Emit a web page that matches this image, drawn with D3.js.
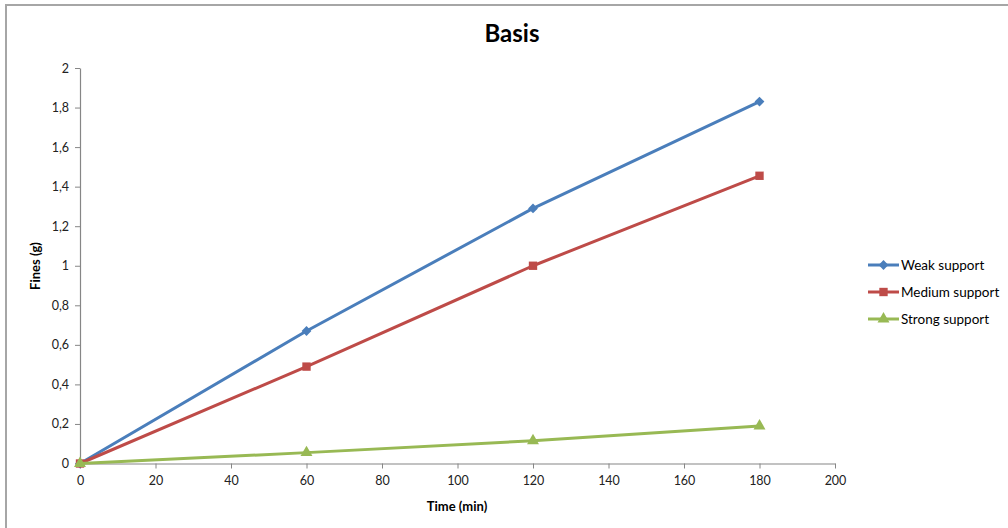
<!DOCTYPE html>
<html>
<head>
<meta charset="utf-8">
<script src="https://cdn.jsdelivr.net/npm/d3@7"></script>
<style>
  html, body { margin: 0; padding: 0; background: #fff; }
  svg { display: block; }
  text { font-family: Lato, "Open Sans", sans-serif; }
</style>
</head>
<body>
<svg id="chart" width="1008" height="528"></svg>
<script>
// Fines collected over time for three support levels
const times = [0, 60, 120, 180];
const weakSupport = [0, 0.67, 1.29, 1.83];
const mediumSupport = [0, 0.49, 1.0, 1.455];
const strongSupport = [0, 0.055, 0.115, 0.19];
const seriesNames = ["Weak support", "Medium support", "Strong support"];
const xTicks = [0, 20, 40, 60, 80, 100, 120, 140, 160, 180, 200];
const yTicks = [0, 0.2, 0.4, 0.6, 0.8, 1, 1.2, 1.4, 1.6, 1.8, 2];

// diamond = square turned 45 degrees
const series = [
  { name: seriesNames[0], values: weakSupport, color: "#4a7ebb", symbol: d3.symbolSquare, size: 48, rot: 45 },
  { name: seriesNames[1], values: mediumSupport, color: "#be4b48", symbol: d3.symbolSquare, size: 70, rot: 0 },
  { name: seriesNames[2], values: strongSupport, color: "#98b954", symbol: d3.symbolTriangle, size: 62, rot: 0 }
];

const svg = d3.select("#chart");

// chart frame (top and left edges visible)
svg.append("path")
  .attr("d", "M6,532 L6,5 L1012,5")
  .attr("fill", "none")
  .attr("stroke", "#a6a6a6")
  .attr("stroke-width", 2);

const x = d3.scaleLinear().domain([0, 200]).range([80, 835]);
const y = d3.scaleLinear().domain([0, 2]).range([463.5, 68]);

const fmt = d => String(d).replace(".", ",");

// x axis
const xAxis = svg.append("g")
  .attr("transform", `translate(0,${y(0)})`)
  .call(d3.axisBottom(x).tickValues(xTicks).tickSize(5).tickSizeOuter(0).tickFormat(fmt));
// y axis
const yAxis = svg.append("g")
  .attr("transform", `translate(${x(0)},0)`)
  .call(d3.axisLeft(y).tickValues(yTicks).tickSize(5).tickSizeOuter(0).tickFormat(fmt));

[xAxis, yAxis].forEach(a => {
  a.select(".domain").attr("stroke", "#868686").attr("stroke-width", 1.2);
  a.selectAll(".tick line").attr("stroke", "#868686");
  a.selectAll(".tick text")
    .attr("fill", "#222")
    .style("font-size", "12.5px")
    .style("font-family", "Lato, 'Open Sans', sans-serif");
});
xAxis.selectAll(".tick text").attr("dy", "1.1em");
yAxis.selectAll(".tick text").attr("x", -11);

// title and axis titles
svg.append("text")
  .attr("x", 512).attr("y", 42)
  .attr("text-anchor", "middle")
  .style("font-size", "24px").style("font-weight", "bold")
  .attr("fill", "#000")
  .text("Basis");

svg.append("text")
  .attr("x", 457).attr("y", 511)
  .attr("text-anchor", "middle")
  .style("font-size", "13px").style("font-weight", "bold")
  .attr("fill", "#000")
  .text("Time (min)");

svg.append("text")
  .attr("transform", "translate(40,266) rotate(-90)")
  .attr("text-anchor", "middle")
  .style("font-size", "13px").style("font-weight", "bold")
  .attr("fill", "#000")
  .text("Fines (g)");

// lines and markers
const line = d3.line().x((d, i) => x(times[i])).y(d => y(d));

series.forEach(s => {
  svg.append("path")
    .datum(s.values)
    .attr("fill", "none")
    .attr("stroke", s.color)
    .attr("stroke-width", 3)
    .attr("stroke-linejoin", "round")
    .attr("d", line);

  svg.selectAll(null)
    .data(s.values)
    .enter()
    .append("path")
    .attr("transform", (d, i) => `translate(${x(times[i])},${y(d)}) rotate(${s.rot})`)
    .attr("d", d3.symbol().type(s.symbol).size(s.size))
    .attr("fill", s.color);
});

// legend
const legend = svg.append("g");
series.forEach((s, i) => {
  const ly = 265 + i * 27;
  legend.append("line")
    .attr("x1", 868).attr("x2", 899)
    .attr("y1", ly).attr("y2", ly)
    .attr("stroke", s.color).attr("stroke-width", 3);
  legend.append("path")
    .attr("transform", `translate(883.5,${ly}) rotate(${s.rot})`)
    .attr("d", d3.symbol().type(s.symbol).size(s.size))
    .attr("fill", s.color);
  legend.append("text")
    .attr("x", 901).attr("y", ly + 4.5)
    .style("font-size", "13.5px")
    .attr("fill", "#000")
    .text(s.name);
});
</script>
</body>
</html>
